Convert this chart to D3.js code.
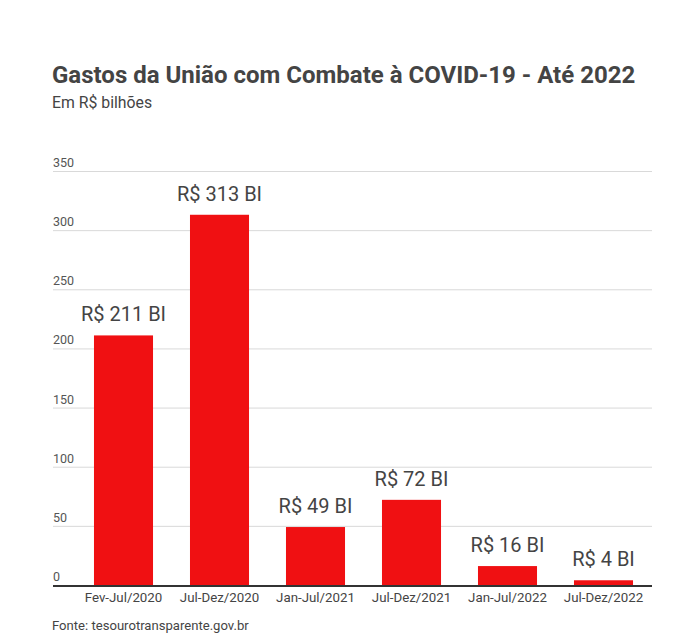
<!DOCTYPE html>
<html>
<head>
<meta charset="utf-8">
<script src="https://cdn.jsdelivr.net/npm/d3@7"></script>
<style>
  html, body { margin: 0; padding: 0; background: #fff; }
  svg { display: block; font-family: Roboto, "Noto Sans", sans-serif; }
</style>
</head>
<body>
<svg id="chart" width="696" height="642"></svg>
<script>
const categories = ["Fev-Jul/2020", "Jul-Dez/2020", "Jan-Jul/2021", "Jul-Dez/2021", "Jan-Jul/2022", "Jul-Dez/2022"];
const values = [211, 313, 49, 72, 16, 4];
const valueLabels = ["R$ 211 BI", "R$ 313 BI", "R$ 49 BI", "R$ 72 BI", "R$ 16 BI", "R$ 4 BI"];
const yTicks = [0, 50, 100, 150, 200, 250, 300, 350];
const title = "Gastos da União com Combate à COVID-19 - Até 2022";
const subtitle = "Em R$ bilhões";
const source = "Fonte: tesourotransparente.gov.br";

const svg = d3.select("#chart");
const plotLeft = 53, plotRight = 652, plotBase = 585, plotTop = 171;

const x = d3.scaleBand().domain(categories).range([75.5, 651.5])
  .paddingInner(0.385).paddingOuter(0.1925);
const y = d3.scaleLinear().domain([0, 350]).range([plotBase, plotTop]);

svg.append("text").attr("x", 52).attr("y", 83)
  .attr("font-size", 24).attr("font-weight", 700).attr("fill", "#444")
  .text(title);
svg.append("text").attr("x", 52).attr("y", 108)
  .attr("font-size", 15.8).attr("fill", "#444").text(subtitle);

// gridlines
const grid = svg.append("g");
grid.selectAll("line").data(yTicks.filter(d => d > 0)).join("line")
  .attr("x1", plotLeft).attr("x2", plotRight)
  .attr("y1", d => y(d) + 0.5).attr("y2", d => y(d) + 0.5)
  .attr("stroke", "#d9d9d9").attr("stroke-width", 1);
grid.selectAll("text").data(yTicks).join("text")
  .attr("x", plotLeft).attr("y", d => y(d) - 4)
  .attr("font-size", 12.5).attr("fill", "#555")
  .text(d => d);

// bars
svg.append("g").selectAll("rect").data(values).join("rect")
  .attr("x", (d, i) => x(categories[i]))
  .attr("width", x.bandwidth())
  .attr("y", d => y(d))
  .attr("height", d => plotBase - y(d))
  .attr("fill", "#f01012");

svg.append("g").selectAll("text").data(values).join("text")
  .attr("x", (d, i) => x(categories[i]) + x.bandwidth() / 2)
  .attr("y", d => y(d) - 14)
  .attr("text-anchor", "middle")
  .attr("font-size", 20).attr("fill", "#444")
  .text((d, i) => valueLabels[i]);

// x axis
const xAxis = svg.append("g").attr("transform", `translate(0,${plotBase})`)
  .call(d3.axisBottom(x).tickSize(0).tickPadding(8));
xAxis.select(".domain").remove();
xAxis.selectAll("text").attr("font-size", 13.3).attr("fill", "#444")
  .attr("font-family", "Roboto, sans-serif");
svg.append("line").attr("x1", plotLeft).attr("x2", plotRight)
  .attr("y1", plotBase + 1).attr("y2", plotBase + 1)
  .attr("stroke", "#333").attr("stroke-width", 2);

svg.append("text").attr("x", 52).attr("y", 630)
  .attr("font-size", 13.1).attr("fill", "#444").text(source);
</script>
</body>
</html>
